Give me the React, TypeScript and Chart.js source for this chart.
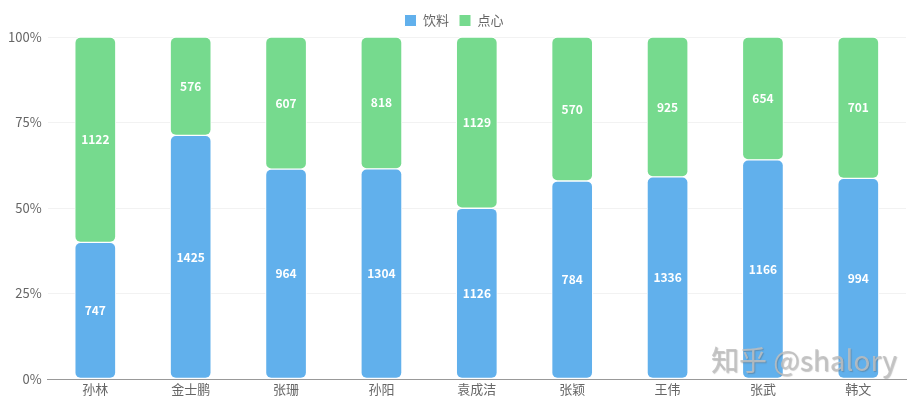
import { useEffect, useRef } from 'react';
import Chart from 'chart.js/auto';

const categories = ['孙林', '金士鹏', '张珊', '孙阳', '袁成洁', '张颖', '王伟', '张武', '韩文'];
const drinks = [747, 1425, 964, 1304, 1126, 784, 1336, 1166, 994];
const snacks = [1122, 576, 607, 818, 1129, 570, 925, 654, 701];
const yTicks = [0, 25, 50, 75, 100];

const FONT = '"Noto Sans CJK SC", "Noto Sans", sans-serif';

// share of each category, for the 100% stacking
const toPercent = (a: number[], b: number[]) => a.map((v, i) => (v / (v + b[i])) * 100);

const corners = { topLeft: 6, topRight: 6, bottomLeft: 6, bottomRight: 6 };

const valueLabels = {
  id: 'valueLabels',
  afterDatasetsDraw(chart: any) {
    const ctx = chart.ctx;
    ctx.save();
    ctx.fillStyle = '#fff';
    ctx.font = `bold 12px ${FONT}`;
    ctx.textAlign = 'center';
    ctx.textBaseline = 'middle';
    chart.data.datasets.forEach((ds: any, di: number) => {
      const meta = chart.getDatasetMeta(di);
      meta.data.forEach((el: any, i: number) => {
        const y = (el.y + el.base) / 2;
        ctx.fillText(String(ds.raw[i]), el.x, y);
      });
    });
    ctx.restore();
  },
};

export default function App() {
  const canvasRef = useRef<HTMLCanvasElement>(null);
  const chartRef = useRef<Chart | null>(null);

  useEffect(() => {
    if (!canvasRef.current) return;
    chartRef.current = new Chart(canvasRef.current, {
      type: 'bar',
      data: {
        labels: categories,
        datasets: [
          {
            label: '饮料',
            data: toPercent(drinks, snacks),
            raw: drinks,
            backgroundColor: '#61b0ec',
            borderColor: '#fff',
            borderWidth: 1,
            borderRadius: corners,
            borderSkipped: false,
            barThickness: 41,
          } as any,
          {
            label: '点心',
            data: toPercent(snacks, drinks),
            raw: snacks,
            backgroundColor: '#76da8e',
            borderColor: '#fff',
            borderWidth: 1,
            borderRadius: corners,
            borderSkipped: false,
            barThickness: 41,
          } as any,
        ],
      },
      options: {
        animation: false,
        responsive: true,
        maintainAspectRatio: false,
        layout: { padding: { left: 2, right: 12, top: 4, bottom: 5 } },
        plugins: {
          tooltip: { enabled: false },
          legend: {
            position: 'top',
            labels: {
              boxWidth: 12,
              boxHeight: 12,
              padding: 10,
              color: '#666',
              font: { family: FONT, size: 13 },
            },
          },
        },
        scales: {
          x: {
            stacked: true,
            grid: { display: false, drawTicks: false },
            border: { color: '#999' },
            ticks: { color: '#666', font: { family: FONT, size: 13, lineHeight: 1 }, padding: 4 },
          },
          y: {
            stacked: true,
            min: 0,
            max: 100,
            afterBuildTicks: (axis: any) => {
              axis.ticks = yTicks.map((v) => ({ value: v }));
            },
            grid: { color: '#f2f2f2', drawTicks: false },
            border: { display: false },
            ticks: {
              color: '#666',
              font: { family: FONT, size: 13 },
              padding: 6,
              callback: (v: any) => `${v}%`,
            },
          },
        },
      },
      plugins: [valueLabels],
    });
    return () => {
      chartRef.current?.destroy();
    };
  }, []);

  return (
    <div style={{ position: 'absolute', left: 0, top: 0, width: 918, height: 405, background: '#fff' }}>
      <canvas ref={canvasRef}></canvas>
      <div
        style={{
          position: 'absolute',
          left: 711,
          top: 339,
          fontFamily: FONT,
          fontSize: 28,
          color: 'rgba(190,190,190,0.85)',
          textShadow: '1px 1px 1px rgba(90,90,90,0.35)',
          whiteSpace: 'nowrap',
          pointerEvents: 'none',
        }}
      >
        知乎 @shalory
      </div>
    </div>
  );
}
